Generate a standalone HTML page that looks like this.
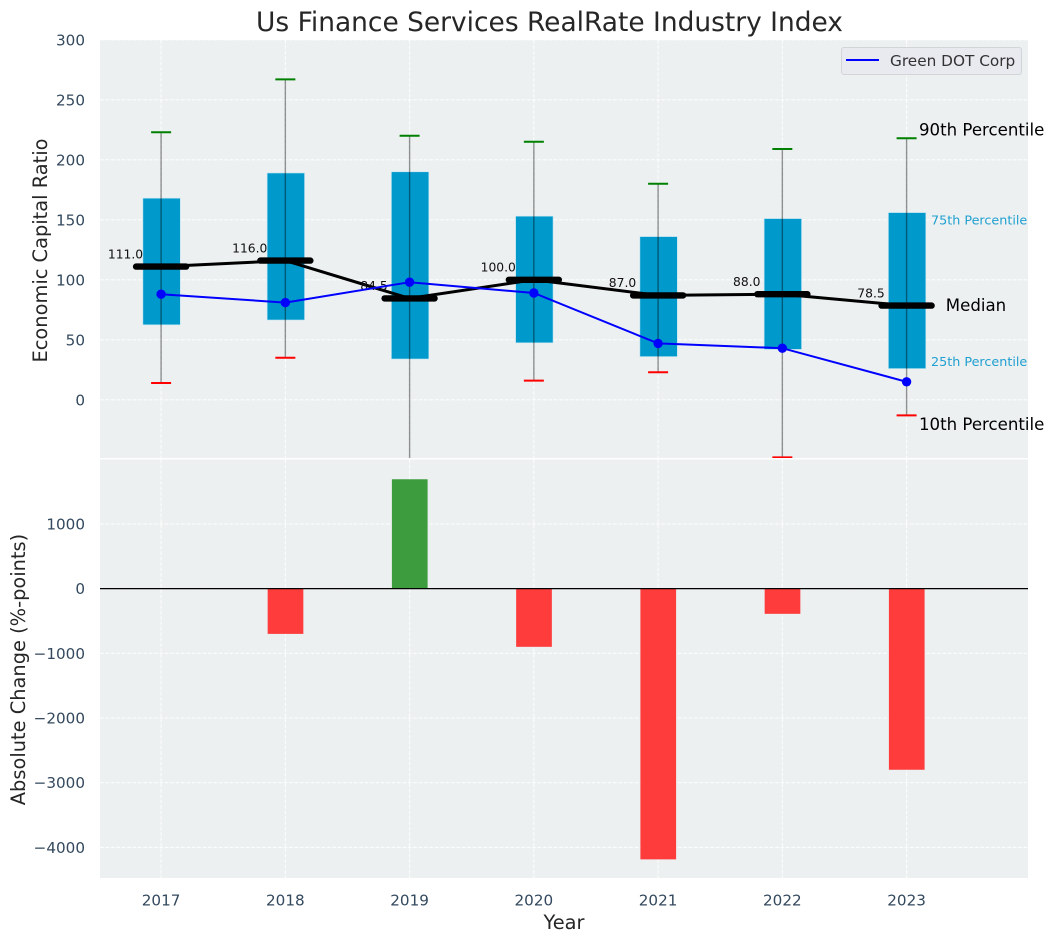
<!DOCTYPE html>
<html lang="en">
<head>
<meta charset="utf-8">
<title>Us Finance Services RealRate Industry Index</title>
<style>
html,body{margin:0;padding:0;background:#fff;width:1054px;height:942px;overflow:hidden}
svg{display:block;font-family:"DejaVu Sans","Liberation Sans",sans-serif}
</style>
</head>
<body>
<svg id="chart" width="1054" height="942" viewBox="0 0 1054 942" xmlns="http://www.w3.org/2000/svg">
<defs>
<clipPath id="top-clip"><rect x="100" y="40" width="928" height="418"/></clipPath>
<clipPath id="bottom-clip"><rect x="100" y="459.5" width="928" height="418.5"/></clipPath>
</defs>
</svg>
<script>
const years = [2017, 2018, 2019, 2020, 2021, 2022, 2023];
const p90 = [223, 267, 220, 215, 180, 209, 218];
const p75 = [168, 189, 190, 153, 136, 151, 156];
const medians = [111, 116, 84.5, 100, 87, 88, 78.5];
const p25 = [62.5, 66.5, 34, 47.5, 36, 42, 26];
const p10 = [14, 35, -60, 16, 23, -48, -13];
const company = [88, 81, 98, 89, 47, 43, 15];
const changes = [0, -700, 1690, -900, -4185, -390, -2800];
const topTicks = [0, 50, 100, 150, 200, 250, 300];
const bottomTicks = [-4000, -3000, -2000, -1000, 0, 1000];

const NS = 'http://www.w3.org/2000/svg';
const svg = document.getElementById('chart');
const x = (i) => 161.1 + i * 124.25;
const yTop = (v) => 399.8 - v * 1.2;
const yBottom = (v) => 588.6 - v * 0.0647;

function mk(tag, attrs, parent, text) {
  const el = document.createElementNS(NS, tag);
  for (const k in attrs) el.setAttribute(k, attrs[k]);
  if (text !== undefined) el.textContent = text;
  (parent || svg).appendChild(el);
  return el;
}
const GRID = {stroke: '#fff', 'stroke-width': 1.1, 'stroke-dasharray': '3.8 1.6', 'stroke-opacity': 0.85};

let el;
el = mk('text', {x: 549.5, y: 31, 'text-anchor': 'middle', 'font-size': 26.45, fill: '#262626'}, svg, 'Us Finance Services RealRate Industry Index');



el = mk('rect', {x: 100, y: 40, width: 928, height: 418, fill: '#ecf0f1'});


el = mk('rect', {x: 100, y: 459.5, width: 928, height: 418.5, fill: '#ecf0f1'});



topTicks.forEach((t) => {
  el = mk('line', Object.assign({x1: 100, x2: 1028, y1: yTop(t), y2: yTop(t)}, GRID));
  
  
  el = mk('text', {x: 85, y: yTop(t) + 5.5, 'text-anchor': 'end', 'font-size': 15.2, fill: '#34495e'}, svg, String(t));
  
  
});
bottomTicks.forEach((t) => {
  el = mk('line', Object.assign({x1: 100, x2: 1028, y1: yBottom(t), y2: yBottom(t)}, GRID));
  
  
  el = mk('text', {x: 85, y: yBottom(t) + 5.5, 'text-anchor': 'end', 'font-size': 15.2, fill: '#34495e'}, svg, String(t).replace('-', '\u2212'));
  
  
});
years.forEach((yr, i) => {
  el = mk('line', Object.assign({x1: x(i), x2: x(i), y1: 40, y2: 458}, GRID));
  
  
  el = mk('line', Object.assign({x1: x(i), x2: x(i), y1: 459.5, y2: 878}, GRID));
  
  
  el = mk('text', {x: x(i), y: 905.5, 'text-anchor': 'middle', 'font-size': 15.2, fill: '#34495e'}, svg, String(yr));
  
  
});

const topG = mk('g', {'clip-path': 'url(#top-clip)'});



years.forEach((yr, i) => {
  const top = yTop(p75[i]);
  const bot = yTop(p25[i]);
  el = mk('rect', {x: x(i) - 18.2, y: top, width: 37.4, height: bot - top, fill: '#0099cc', stroke: '#bfe5f2', 'stroke-width': 0.6}, topG);
  
  
  el = mk('line', {x1: x(i), x2: x(i), y1: yTop(p90[i]), y2: yTop(p10[i]), stroke: '#000', 'stroke-opacity': 0.42, 'stroke-width': 1.4}, topG);
  
  
  el = mk('line', {x1: x(i) - 10, x2: x(i) + 10, y1: yTop(p90[i]), y2: yTop(p90[i]), stroke: '#008000', 'stroke-width': 2}, topG);
  
  
  el = mk('line', {x1: x(i) - 10, x2: x(i) + 10, y1: yTop(p10[i]), y2: yTop(p10[i]), stroke: '#ff0000', 'stroke-width': 2}, topG);
  
  
});

el = mk('polyline', {points: medians.map((v, i) => x(i) + ',' + yTop(v)).join(' '), fill: 'none', stroke: '#000', 'stroke-width': 3}, topG);



years.forEach((yr, i) => {
  el = mk('line', {x1: x(i) - 25, x2: x(i) + 25, y1: yTop(medians[i]), y2: yTop(medians[i]), stroke: '#000', 'stroke-width': 6.4, 'stroke-linecap': 'round'}, topG);
  
  
  el = mk('text', {x: x(i) - 35.6, y: yTop(medians[i]) - 8.3, 'text-anchor': 'middle', 'font-size': 12.3, fill: '#111'}, svg, medians[i].toFixed(1));
  
  
});

el = mk('polyline', {points: company.map((v, i) => x(i) + ',' + yTop(v)).join(' '), fill: 'none', stroke: '#0000ff', 'stroke-width': 2}, svg);


company.forEach((v, i) => {
  el = mk('circle', {cx: x(i), cy: yTop(v), r: 4.7, fill: '#0000ff'}, svg);
  
  
});

const bottomG = mk('g', {'clip-path': 'url(#bottom-clip)'});


changes.forEach((v, i) => {
  const y0 = yBottom(0);
  const y1 = yBottom(v);
  el = mk('rect', {x: x(i) - 17.7, y: Math.min(y0, y1), width: 35.7, height: Math.abs(y1 - y0), fill: v >= 0 ? '#3d9c3d' : '#ff3c3c'}, bottomG);
  
  
});
el = mk('line', {x1: 100, x2: 1028, y1: yBottom(0), y2: yBottom(0), stroke: '#000', 'stroke-width': 1.2}, svg);



const last = x(years.length - 1);
el = mk('text', {x: last + 12.4, y: 135.5, 'font-size': 16.6, fill: '#000'}, svg, '90th Percentile');


el = mk('text', {x: last + 24.4, y: 224.5, 'font-size': 12.75, fill: '#1f9fd0'}, svg, '75th Percentile');


el = mk('text', {x: last + 39.2, y: 311, 'font-size': 16.6, fill: '#000'}, svg, 'Median');


el = mk('text', {x: last + 24.4, y: 366, 'font-size': 12.75, fill: '#1f9fd0'}, svg, '25th Percentile');


el = mk('text', {x: last + 12.4, y: 430, 'font-size': 16.6, fill: '#000'}, svg, '10th Percentile');



el = mk('rect', {x: 841.5, y: 47.5, width: 180, height: 27, rx: 2.5, fill: '#e9eaf0', stroke: '#d2d4d8', 'stroke-width': 1});


el = mk('line', {x1: 846, x2: 879, y1: 60, y2: 60, stroke: '#0000ff', 'stroke-width': 2});


el = mk('text', {x: 890, y: 66, 'font-size': 15.3, fill: '#333'}, svg, 'Green DOT Corp');



el = mk('text', {x: 564, y: 929, 'text-anchor': 'middle', 'font-size': 19.4, fill: '#262626'}, svg, 'Year');


el = mk('text', {transform: 'translate(47 250.5) rotate(-90)', 'text-anchor': 'middle', 'font-size': 19.4, fill: '#262626'}, svg, 'Economic Capital Ratio');


el = mk('text', {transform: 'translate(25 669.5) rotate(-90)', 'text-anchor': 'middle', 'font-size': 19.4, fill: '#262626'}, svg, 'Absolute Change (%-points)');


</script>
</body>
</html>
